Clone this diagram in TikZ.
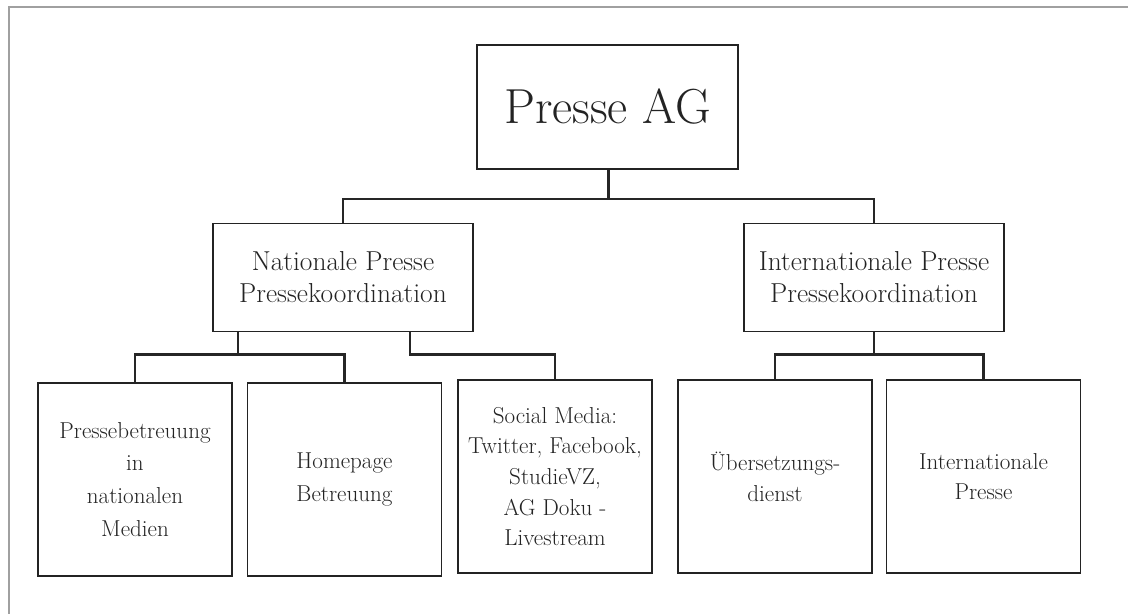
\documentclass[tikz,border=0pt]{standalone}
\definecolor{framegray}{RGB}{160,160,160}
\definecolor{inkgray}{RGB}{35,35,35}

\begin{document}
\begin{tikzpicture}[
    box/.style={draw=inkgray, line width=1.1pt, text=inkgray, align=center, inner sep=0pt},
    unit/.style={box, minimum width=6.5cm, minimum height=2.7cm, font=\fontsize{19.5}{23}\selectfont},
    team/.style={box, minimum width=4.85cm, minimum height=4.825cm, font=\fontsize{16.4}{23.3}\selectfont},
    link/.style={line width=2pt, black!85}
  ]
  \useasboundingbox (0,0) rectangle (28.2,15.325);

  % Frame (top and left edge only)
  \draw[framegray, line width=1.4pt] (0.225,-0.1) -- (0.225,15.15) -- (28.3,15.15);

  % Head
  \node[box, minimum width=6.525cm, minimum height=3.1cm, font=\fontsize{35}{40}\selectfont] (ag) at (15.19,12.65) {Presse AG};

  % Coordination units
  \node[unit] (nat) at (8.575,8.39) {Nationale Presse\\Pressekoordination};
  \node[unit] (int) at (21.85,8.39) {Internationale Presse\\Pressekoordination};

  % Teams
  \node[team] (medien) at (3.375,3.34) {Pressebetreuung\\in\\nationalen\\Medien};
  \node[team] (homepage) at (8.6125,3.34) {Homepage\\Betreuung};
  \node[team, font=\fontsize{16.4}{21.8}\selectfont] (social) at (13.875,3.41) {Social Media:\\Twitter, Facebook,\\StudieVZ,\\AG Doku -\\Livestream};
  \node[team, font=\fontsize{16.4}{21.8}\selectfont] (uebers) at (19.375,3.41) {Übersetzungs-\\dienst};
  \node[team, font=\fontsize{16.4}{21.8}\selectfont] (intpresse) at (24.5875,3.41) {Internationale\\Presse};

  % Connectors
  \coordinate (j0) at (15.22,10.35);
  \coordinate (j1) at (5.95,6.46);
  \coordinate (j2) at (10.25,6.46);
  \coordinate (j3) at (21.85,6.46);

  \draw[link] (ag.south -| j0) -- (j0);
  \draw[link] (nat.north) |- (j0) -| (int.north);
  \draw[link] (nat.south -| j1) -- (j1);
  \draw[link] (medien.north) |- (j1) -| (homepage.north);
  \draw[link] (nat.south -| j2) -- (j2) -| (social.north);
  \draw[link] (int.south) -- (j3);
  \draw[link] (uebers.north) |- (j3) -| (intpresse.north);
\end{tikzpicture}
\end{document}
